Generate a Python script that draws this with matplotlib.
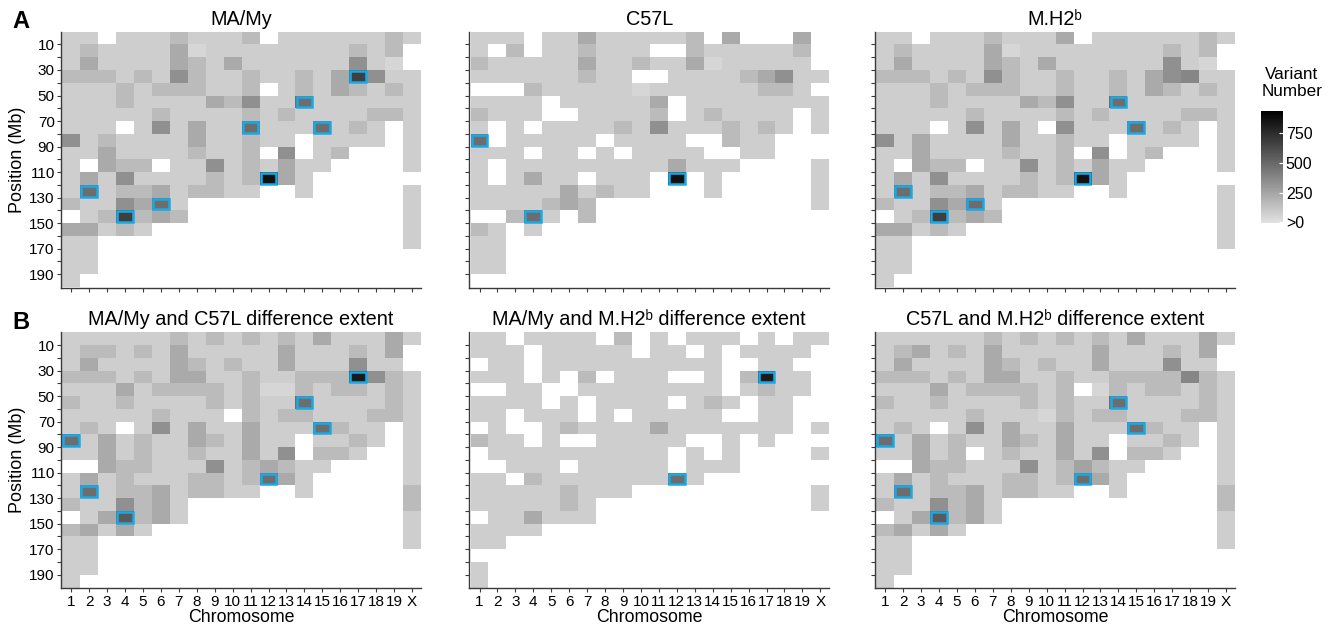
import numpy as np
import matplotlib
matplotlib.use("Agg")
import matplotlib.pyplot as plt
from matplotlib.colors import LinearSegmentedColormap
from matplotlib.patches import Rectangle

plt.rcParams['font.family'] = ['Liberation Sans', 'DejaVu Sans']

chromosomes = ['1', '2', '3', '4', '5', '6', '7', '8', '9', '10', '11', '12',
               '13', '14', '15', '16', '17', '18', '19', 'X']
bin_starts = list(range(0, 200, 10))          # Mb, 10 Mb bins
ytick_major = [10, 30, 50, 70, 90, 110, 130, 150, 170, 190]
ytick_minor = [20, 40, 60, 80, 100, 120, 140, 160, 180]
cbar_ticks = [10, 250, 500, 750]
cbar_labels = ['>0', '250', '500', '750']

# variant numbers per 10-Mb bin (rows = bins from 0 Mb, columns = chromosomes)
ma_my = [
    [85, 85, 0, 85, 85, 85, 160, 85, 85, 85, 160, 0, 85, 85, 85, 85, 85, 85, 160, 85],
    [85, 160, 85, 85, 85, 85, 230, 50, 85, 85, 85, 85, 85, 85, 85, 85, 160, 85, 160, 0],
    [85, 230, 85, 85, 85, 85, 230, 160, 85, 230, 85, 85, 85, 85, 85, 85, 340, 85, 50, 0],
    [160, 160, 160, 85, 160, 85, 340, 160, 85, 85, 160, 85, 85, 160, 85, 230, 670, 340, 85, 85],
    [85, 85, 85, 160, 85, 160, 160, 160, 85, 85, 160, 0, 85, 160, 85, 230, 160, 85, 160, 85],
    [85, 85, 85, 160, 85, 85, 85, 85, 230, 160, 340, 85, 85, 480, 85, 85, 85, 85, 85, 85],
    [85, 85, 85, 85, 85, 160, 85, 85, 85, 85, 160, 85, 160, 85, 85, 85, 85, 160, 160, 85],
    [85, 85, 85, 0, 85, 340, 85, 230, 85, 85, 480, 85, 85, 85, 480, 85, 160, 85, 0, 85],
    [340, 85, 160, 85, 85, 85, 85, 230, 85, 85, 160, 85, 85, 0, 85, 85, 85, 85, 0, 85],
    [85, 85, 230, 85, 85, 85, 85, 160, 85, 85, 160, 0, 340, 0, 85, 160, 0, 0, 0, 85],
    [85, 0, 230, 160, 160, 0, 85, 85, 340, 85, 160, 85, 230, 85, 85, 0, 0, 0, 0, 85],
    [85, 230, 85, 340, 85, 85, 85, 85, 160, 85, 160, 860, 230, 85, 0, 0, 0, 0, 0, 0],
    [85, 480, 85, 160, 160, 230, 85, 160, 160, 85, 85, 0, 0, 85, 0, 0, 0, 0, 0, 85],
    [160, 85, 85, 340, 230, 480, 85, 0, 0, 0, 0, 0, 0, 0, 0, 0, 0, 0, 0, 85],
    [0, 85, 160, 670, 160, 230, 160, 0, 0, 0, 0, 0, 0, 0, 0, 0, 0, 0, 0, 85],
    [230, 230, 85, 160, 85, 0, 0, 0, 0, 0, 0, 0, 0, 0, 0, 0, 0, 0, 0, 85],
    [85, 85, 0, 0, 0, 0, 0, 0, 0, 0, 0, 0, 0, 0, 0, 0, 0, 0, 0, 85],
    [85, 85, 0, 0, 0, 0, 0, 0, 0, 0, 0, 0, 0, 0, 0, 0, 0, 0, 0, 0],
    [85, 85, 0, 0, 0, 0, 0, 0, 0, 0, 0, 0, 0, 0, 0, 0, 0, 0, 0, 0],
    [85, 0, 0, 0, 0, 0, 0, 0, 0, 0, 0, 0, 0, 0, 0, 0, 0, 0, 0, 0],
]

c57l = [
    [85, 85, 85, 0, 85, 85, 230, 85, 85, 85, 85, 85, 160, 0, 230, 0, 0, 0, 230, 0],
    [85, 0, 160, 0, 85, 85, 160, 85, 85, 85, 0, 0, 160, 85, 85, 85, 85, 85, 160, 0],
    [160, 85, 85, 85, 85, 85, 230, 85, 85, 160, 85, 85, 230, 50, 85, 85, 85, 85, 85, 0],
    [85, 85, 85, 85, 85, 85, 160, 85, 85, 0, 0, 85, 85, 85, 85, 160, 230, 340, 85, 85],
    [0, 0, 0, 160, 85, 85, 85, 85, 85, 50, 85, 85, 85, 85, 85, 85, 160, 160, 85, 0],
    [85, 85, 85, 85, 0, 85, 85, 85, 85, 85, 230, 0, 85, 85, 85, 85, 85, 85, 85, 85],
    [160, 85, 85, 85, 0, 0, 85, 85, 85, 85, 160, 0, 85, 160, 85, 85, 85, 85, 0, 85],
    [85, 0, 85, 0, 85, 85, 85, 85, 160, 85, 340, 85, 85, 85, 160, 85, 160, 85, 0, 85],
    [480, 0, 85, 85, 85, 85, 85, 0, 85, 85, 85, 85, 0, 0, 160, 85, 85, 0, 0, 0],
    [85, 85, 85, 0, 85, 85, 0, 85, 0, 85, 85, 85, 85, 0, 0, 85, 85, 0, 0, 0],
    [85, 0, 85, 85, 85, 85, 85, 85, 85, 85, 85, 230, 85, 85, 85, 0, 0, 0, 0, 85],
    [85, 0, 85, 230, 85, 85, 0, 85, 85, 85, 0, 860, 0, 85, 0, 0, 0, 0, 0, 85],
    [85, 85, 85, 85, 85, 230, 85, 160, 85, 85, 0, 0, 0, 85, 0, 0, 0, 0, 0, 85],
    [85, 85, 85, 85, 160, 230, 160, 0, 0, 0, 0, 0, 0, 0, 0, 0, 0, 0, 0, 85],
    [0, 0, 160, 480, 85, 0, 160, 0, 0, 0, 0, 0, 0, 0, 0, 0, 0, 0, 0, 0],
    [160, 85, 0, 85, 0, 0, 0, 0, 0, 0, 0, 0, 0, 0, 0, 0, 0, 0, 0, 0],
    [85, 85, 0, 0, 0, 0, 0, 0, 0, 0, 0, 0, 0, 0, 0, 0, 0, 0, 0, 0],
    [85, 85, 0, 0, 0, 0, 0, 0, 0, 0, 0, 0, 0, 0, 0, 0, 0, 0, 0, 0],
    [85, 85, 0, 0, 0, 0, 0, 0, 0, 0, 0, 0, 0, 0, 0, 0, 0, 0, 0, 0],
    [0, 0, 0, 0, 0, 0, 0, 0, 0, 0, 0, 0, 0, 0, 0, 0, 0, 0, 0, 0],
]

m_h2b = [
    [85, 85, 0, 85, 85, 85, 160, 85, 85, 85, 230, 0, 85, 85, 85, 85, 85, 85, 160, 85],
    [85, 160, 85, 85, 85, 85, 230, 50, 85, 85, 85, 85, 85, 85, 85, 85, 160, 85, 160, 0],
    [85, 230, 85, 85, 85, 85, 230, 160, 85, 230, 85, 85, 85, 85, 85, 85, 340, 85, 50, 0],
    [160, 160, 160, 85, 160, 85, 340, 160, 85, 85, 160, 85, 85, 160, 85, 230, 340, 380, 85, 85],
    [85, 85, 85, 160, 85, 160, 160, 160, 85, 85, 160, 85, 85, 160, 85, 230, 160, 85, 160, 85],
    [85, 85, 85, 160, 85, 85, 85, 85, 230, 160, 340, 85, 85, 480, 85, 85, 85, 85, 85, 85],
    [85, 85, 85, 85, 85, 160, 85, 85, 85, 85, 160, 85, 160, 85, 85, 85, 85, 160, 160, 85],
    [85, 85, 85, 0, 85, 340, 85, 230, 85, 0, 340, 85, 85, 85, 480, 85, 160, 85, 0, 85],
    [340, 85, 230, 85, 85, 85, 85, 230, 85, 85, 160, 85, 85, 0, 85, 85, 85, 85, 0, 85],
    [85, 85, 230, 85, 85, 85, 85, 160, 85, 85, 160, 0, 340, 0, 85, 160, 0, 0, 0, 85],
    [85, 0, 230, 160, 160, 0, 85, 85, 340, 85, 160, 85, 230, 85, 85, 0, 0, 0, 0, 85],
    [85, 230, 85, 340, 85, 85, 85, 85, 160, 85, 160, 860, 230, 85, 0, 0, 0, 0, 0, 0],
    [85, 480, 85, 160, 160, 230, 85, 160, 160, 85, 85, 0, 0, 85, 0, 0, 0, 0, 0, 85],
    [160, 85, 85, 340, 230, 480, 85, 0, 0, 0, 0, 0, 0, 0, 0, 0, 0, 0, 0, 85],
    [0, 85, 160, 670, 160, 230, 160, 0, 0, 0, 0, 0, 0, 0, 0, 0, 0, 0, 0, 85],
    [230, 230, 85, 160, 85, 0, 0, 0, 0, 0, 0, 0, 0, 0, 0, 0, 0, 0, 0, 85],
    [85, 85, 0, 0, 0, 0, 0, 0, 0, 0, 0, 0, 0, 0, 0, 0, 0, 0, 0, 85],
    [85, 85, 0, 0, 0, 0, 0, 0, 0, 0, 0, 0, 0, 0, 0, 0, 0, 0, 0, 0],
    [85, 85, 0, 0, 0, 0, 0, 0, 0, 0, 0, 0, 0, 0, 0, 0, 0, 0, 0, 0],
    [85, 0, 0, 0, 0, 0, 0, 0, 0, 0, 0, 0, 0, 0, 0, 0, 0, 0, 0, 0],
]

diff_ma_c57 = [
    [85, 85, 85, 85, 85, 85, 160, 85, 160, 85, 160, 85, 160, 85, 230, 85, 85, 85, 230, 85],
    [85, 160, 160, 85, 160, 85, 230, 85, 85, 85, 85, 85, 230, 85, 85, 85, 160, 85, 230, 0],
    [85, 230, 85, 85, 85, 85, 230, 160, 85, 160, 85, 85, 230, 85, 85, 85, 340, 85, 85, 0],
    [160, 160, 160, 85, 160, 85, 230, 230, 85, 85, 160, 85, 85, 160, 160, 160, 820, 340, 160, 85],
    [85, 85, 85, 230, 85, 160, 160, 160, 160, 85, 160, 50, 50, 160, 85, 160, 160, 85, 160, 85],
    [160, 85, 85, 160, 85, 85, 85, 85, 160, 85, 160, 85, 85, 480, 85, 85, 85, 85, 160, 85],
    [85, 85, 85, 85, 85, 160, 85, 85, 85, 0, 160, 85, 160, 160, 85, 85, 85, 160, 160, 85],
    [85, 160, 85, 0, 85, 340, 85, 230, 85, 85, 230, 85, 85, 85, 480, 160, 85, 85, 0, 85],
    [480, 85, 230, 85, 160, 85, 85, 230, 160, 85, 230, 85, 85, 0, 85, 85, 160, 85, 0, 85],
    [85, 85, 230, 85, 160, 85, 85, 160, 85, 85, 230, 85, 340, 0, 160, 160, 85, 0, 0, 85],
    [0, 0, 230, 160, 160, 85, 85, 85, 340, 85, 160, 230, 160, 85, 85, 0, 0, 0, 0, 85],
    [85, 230, 85, 160, 85, 85, 85, 160, 160, 85, 160, 480, 230, 85, 0, 0, 0, 0, 0, 85],
    [85, 480, 85, 160, 160, 230, 85, 160, 160, 85, 85, 0, 0, 85, 0, 0, 0, 0, 0, 160],
    [160, 85, 85, 340, 160, 230, 85, 0, 0, 0, 0, 0, 0, 0, 0, 0, 0, 0, 0, 160],
    [0, 85, 230, 560, 160, 230, 85, 0, 0, 0, 0, 0, 0, 0, 0, 0, 0, 0, 0, 85],
    [160, 230, 85, 230, 85, 0, 0, 0, 0, 0, 0, 0, 0, 0, 0, 0, 0, 0, 0, 85],
    [85, 85, 0, 0, 0, 0, 0, 0, 0, 0, 0, 0, 0, 0, 0, 0, 0, 0, 0, 85],
    [85, 85, 0, 0, 0, 0, 0, 0, 0, 0, 0, 0, 0, 0, 0, 0, 0, 0, 0, 0],
    [85, 85, 0, 0, 0, 0, 0, 0, 0, 0, 0, 0, 0, 0, 0, 0, 0, 0, 0, 0],
    [85, 0, 0, 0, 0, 0, 0, 0, 0, 0, 0, 0, 0, 0, 0, 0, 0, 0, 0, 0],
]

diff_ma_mh2b = [
    [85, 85, 0, 85, 85, 85, 85, 0, 160, 0, 85, 0, 85, 85, 85, 0, 85, 0, 85, 85],
    [85, 85, 85, 0, 85, 85, 85, 85, 85, 0, 85, 85, 0, 85, 0, 85, 85, 85, 85, 0],
    [0, 85, 85, 0, 85, 85, 85, 85, 85, 85, 85, 85, 85, 85, 0, 0, 85, 85, 0, 0],
    [85, 85, 85, 0, 85, 0, 160, 0, 85, 85, 85, 0, 0, 85, 0, 160, 820, 85, 85, 0],
    [0, 0, 85, 85, 0, 0, 85, 85, 85, 85, 85, 85, 85, 85, 0, 85, 160, 85, 85, 0],
    [85, 85, 85, 85, 0, 85, 0, 85, 85, 85, 85, 0, 85, 160, 85, 0, 85, 85, 0, 0],
    [85, 85, 0, 85, 85, 85, 0, 85, 0, 85, 85, 85, 85, 85, 0, 0, 85, 85, 0, 0],
    [0, 85, 0, 0, 85, 160, 85, 85, 85, 85, 230, 85, 85, 85, 85, 85, 85, 85, 0, 85],
    [160, 85, 85, 0, 85, 0, 0, 85, 85, 85, 85, 85, 0, 0, 85, 0, 85, 0, 0, 0],
    [0, 85, 85, 85, 85, 85, 85, 85, 85, 85, 85, 0, 85, 0, 85, 0, 0, 0, 0, 85],
    [0, 0, 85, 85, 85, 0, 85, 85, 85, 85, 85, 0, 85, 85, 85, 0, 0, 0, 0, 0],
    [85, 85, 0, 160, 85, 85, 85, 85, 85, 85, 85, 480, 85, 0, 0, 0, 0, 0, 0, 0],
    [85, 85, 85, 85, 85, 160, 85, 85, 85, 0, 0, 0, 0, 0, 0, 0, 0, 0, 0, 85],
    [85, 85, 85, 85, 85, 160, 85, 0, 0, 0, 0, 0, 0, 0, 0, 0, 0, 0, 0, 85],
    [0, 85, 85, 230, 85, 85, 85, 0, 0, 0, 0, 0, 0, 0, 0, 0, 0, 0, 0, 0],
    [85, 85, 85, 85, 0, 0, 0, 0, 0, 0, 0, 0, 0, 0, 0, 0, 0, 0, 0, 0],
    [85, 85, 0, 0, 0, 0, 0, 0, 0, 0, 0, 0, 0, 0, 0, 0, 0, 0, 0, 0],
    [0, 0, 0, 0, 0, 0, 0, 0, 0, 0, 0, 0, 0, 0, 0, 0, 0, 0, 0, 0],
    [85, 0, 0, 0, 0, 0, 0, 0, 0, 0, 0, 0, 0, 0, 0, 0, 0, 0, 0, 0],
    [85, 0, 0, 0, 0, 0, 0, 0, 0, 0, 0, 0, 0, 0, 0, 0, 0, 0, 0, 0],
]

diff_c57_mh2b = [
    [85, 85, 85, 85, 85, 85, 160, 85, 160, 85, 160, 85, 160, 85, 230, 85, 85, 85, 230, 85],
    [85, 160, 230, 85, 160, 85, 230, 85, 85, 85, 85, 85, 230, 85, 85, 85, 160, 85, 230, 0],
    [85, 230, 85, 85, 85, 85, 230, 160, 85, 160, 85, 85, 230, 85, 85, 85, 340, 85, 85, 0],
    [160, 160, 160, 85, 160, 85, 230, 230, 85, 85, 160, 85, 85, 160, 160, 160, 160, 380, 160, 85],
    [85, 85, 85, 230, 85, 160, 160, 160, 160, 85, 160, 0, 50, 160, 85, 160, 160, 85, 160, 85],
    [160, 85, 85, 160, 85, 85, 85, 85, 160, 85, 160, 85, 85, 480, 85, 85, 85, 85, 160, 85],
    [85, 85, 85, 85, 85, 160, 85, 85, 85, 50, 160, 85, 160, 160, 85, 85, 85, 160, 160, 85],
    [85, 160, 85, 0, 85, 340, 85, 230, 85, 85, 230, 85, 85, 85, 480, 160, 85, 85, 0, 85],
    [480, 85, 230, 85, 160, 85, 85, 230, 160, 85, 230, 85, 85, 0, 85, 85, 160, 85, 0, 85],
    [85, 85, 230, 85, 160, 0, 85, 160, 85, 85, 230, 85, 340, 0, 160, 160, 85, 0, 0, 85],
    [0, 0, 230, 160, 160, 85, 85, 85, 340, 85, 160, 260, 160, 85, 85, 0, 0, 0, 0, 85],
    [85, 230, 85, 160, 85, 85, 85, 160, 160, 85, 160, 480, 230, 85, 0, 0, 0, 0, 0, 85],
    [85, 480, 85, 160, 160, 230, 85, 160, 160, 85, 85, 0, 0, 85, 0, 0, 0, 0, 0, 160],
    [160, 85, 85, 340, 160, 230, 85, 0, 0, 0, 0, 0, 0, 0, 0, 0, 0, 0, 0, 160],
    [0, 85, 230, 560, 160, 230, 85, 0, 0, 0, 0, 0, 0, 0, 0, 0, 0, 0, 0, 85],
    [160, 230, 85, 230, 85, 0, 0, 0, 0, 0, 0, 0, 0, 0, 0, 0, 0, 0, 0, 85],
    [85, 85, 0, 0, 0, 0, 0, 0, 0, 0, 0, 0, 0, 0, 0, 0, 0, 0, 0, 85],
    [85, 85, 0, 0, 0, 0, 0, 0, 0, 0, 0, 0, 0, 0, 0, 0, 0, 0, 0, 0],
    [85, 85, 0, 0, 0, 0, 0, 0, 0, 0, 0, 0, 0, 0, 0, 0, 0, 0, 0, 0],
    [85, 0, 0, 0, 0, 0, 0, 0, 0, 0, 0, 0, 0, 0, 0, 0, 0, 0, 0, 0],
]

# highlighted bins (chromosome, bin start in Mb)
hl_ma_my = [('17', 30), ('14', 50), ('11', 70), ('15', 70), ('12', 110),
            ('2', 120), ('6', 130), ('4', 140)]
hl_c57l = [('1', 80), ('12', 110), ('4', 140)]
hl_m_h2b = [('14', 50), ('15', 70), ('12', 110), ('2', 120), ('6', 130), ('4', 140)]
hl_diff_ma_c57 = [('17', 30), ('14', 50), ('15', 70), ('1', 80), ('12', 110),
                  ('2', 120), ('4', 140)]
hl_diff_ma_mh2b = [('17', 30), ('12', 110)]
hl_diff_c57_mh2b = [('14', 50), ('15', 70), ('1', 80), ('12', 110), ('2', 120), ('4', 140)]

titles = ['MA/My', 'C57L', 'M.H2\u1d47',
          'MA/My and C57L difference extent',
          'MA/My and M.H2\u1d47 difference extent',
          'C57L and M.H2\u1d47 difference extent']
panels = [ma_my, c57l, m_h2b, diff_ma_c57, diff_ma_mh2b, diff_c57_mh2b]
highlights = [hl_ma_my, hl_c57l, hl_m_h2b, hl_diff_ma_c57, hl_diff_ma_mh2b, hl_diff_c57_mh2b]

cmap = LinearSegmentedColormap.from_list('grey', ['#e2e2e2', '#000000'])
VMAX = 930
HL_COLOR = '#19a9e6'
SPINE = '#3a3a3a'

W, H = 1333, 627
fig = plt.figure(figsize=(W / 100, H / 100), dpi=100)

lefts = [61, 469.3, 875]
tops = [31.7, 332.3]
pw, ph = 360, 256

xe = np.arange(0.5, len(chromosomes) + 1, 1.0)
ye = np.array(bin_starts + [200])

mesh = None
for i, (data, hl, title) in enumerate(zip(panels, highlights, titles)):
    r, c = divmod(i, 3)
    ax = fig.add_axes([lefts[c] / W, 1 - (tops[r] + ph) / H, pw / W, ph / H])
    arr = np.array(data, dtype=float)
    arr = np.ma.masked_where(arr <= 0, arr)
    mesh = ax.pcolormesh(xe, ye, arr, cmap=cmap, vmin=0, vmax=VMAX,
                         shading='flat', antialiased=False, edgecolors='none')
    for chrom, start in hl:
        xi = chromosomes.index(chrom) + 1
        ax.add_patch(Rectangle((xi - 0.44, start + 0.8), 0.88, 8.4, fill=False,
                               edgecolor=HL_COLOR, linewidth=1.8, zorder=3))
    ax.set_xlim(0.43, 20.5)
    ax.set_ylim(200.6, 0)
    for s in ['top', 'right']:
        ax.spines[s].set_visible(False)
    for s in ['left', 'bottom']:
        ax.spines[s].set_color(SPINE)
        ax.spines[s].set_linewidth(1.0)
    ax.set_xticks(range(1, len(chromosomes) + 1))
    ax.set_yticks(ytick_major)
    ax.set_yticks(ytick_minor, minor=True)
    ax.tick_params(axis='both', which='both', length=3, width=0.8, color=SPINE,
                   labelsize=11, pad=1.5)
    if r == 1:
        ax.set_xticklabels(chromosomes)
        ax.set_xlabel('Chromosome', fontsize=12.8, labelpad=0.5)
    else:
        ax.set_xticklabels([])
    if c == 0:
        ax.set_yticklabels([str(v) for v in ytick_major])
        ax.set_ylabel('Position (Mb)', fontsize=13, labelpad=2)
    else:
        ax.set_yticklabels([])
    ax.set_title(title, fontsize=14.3, pad=5)

fig.text(12 / W, 1 - 22 / H, 'A', fontsize=17, fontweight='bold', va='center', ha='left')
fig.text(12 / W, 1 - 322 / H, 'B', fontsize=17, fontweight='bold', va='center', ha='left')

cax = fig.add_axes([1261 / W, 1 - 223 / H, 22 / W, 112 / H])
cb = fig.colorbar(mesh, cax=cax, ticks=cbar_ticks)
cb.outline.set_visible(False)
cb.ax.set_yticklabels(cbar_labels)
cb.ax.tick_params(length=3, width=0.8, color='white', labelsize=11.5, pad=2, direction='in')
fig.text(1292 / W, 1 - 83 / H, 'Variant\nNumber', fontsize=12.3, ha='center',
         va='center', linespacing=1.15)

fig.savefig('out.png', dpi=100)
